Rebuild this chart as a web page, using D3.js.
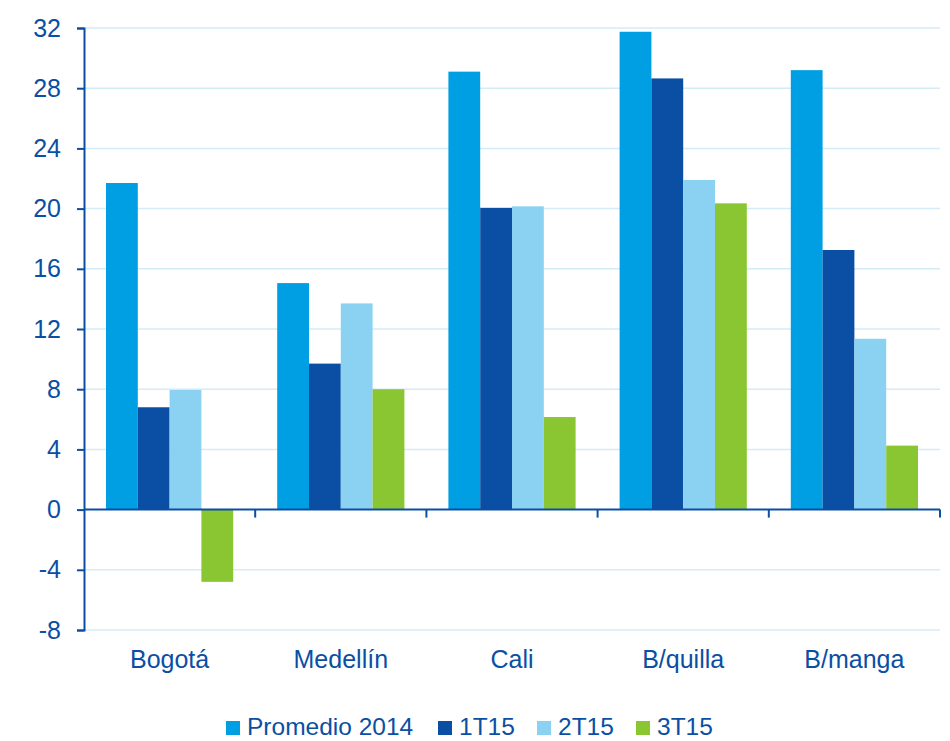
<!DOCTYPE html>
<html><head><meta charset="utf-8">
<script src="https://cdn.jsdelivr.net/npm/d3@7"></script>
<style>body{margin:0;background:#fff}svg{display:block}text{font-family:"Liberation Sans",Arial,sans-serif}</style>
</head><body><svg id="c" width="950" height="741"></svg>
<script>
const categories = ["Bogotá","Medellín","Cali","B/quilla","B/manga"];
const seriesNames = ["Promedio 2014","1T15","2T15","3T15"];
const promedio2014 = [21.7,15.05,29.1,31.75,29.2];
const t1T15 = [6.8,9.7,20.05,28.65,17.25];
const t2T15 = [7.95,13.7,20.15,21.9,11.35];
const t3T15 = [-4.8,8.0,6.15,20.35,4.25];
const yTicks = [-8,-4,0,4,8,12,16,20,24,28,32];
const colors = ["#009FE3","#0A4FA3","#8BD1F2","#8AC631"];
const values = [promedio2014,t1T15,t2T15,t3T15];
const textColor = "#0A4FA3";

const svg = d3.select("#c");
const x0 = 84, x1 = 940, yTop = 28, yBot = 630;
const y = d3.scaleLinear().domain([-8,32]).range([yBot,yTop]);
const xb = d3.scaleBand().domain(categories).range([x0,x1]).paddingInner(0).paddingOuter(0);
const xs = d3.scaleBand().domain(seriesNames).range([22, xb.bandwidth()-22]).padding(0);

// gridlines
svg.append("g").selectAll("line").data(yTicks.filter(d=>d!==0)).join("line")
  .attr("x1",x0).attr("x2",x1).attr("y1",d=>y(d)).attr("y2",d=>y(d))
  .attr("stroke","#D3ECF8").attr("stroke-width",1.5);

// bars
const g = svg.append("g");
categories.forEach((c,i)=>{
  seriesNames.forEach((s,j)=>{
    const v = values[j][i];
    g.append("rect").attr("x",xb(c)+xs(s)).attr("width",xs.bandwidth())
      .attr("y",y(Math.max(0,v))).attr("height",Math.abs(y(v)-y(0)))
      .attr("fill",colors[j]);
  });
});

// y axis
const ya = svg.append("g").attr("transform",`translate(${x0},0)`)
  .call(d3.axisLeft(y).tickValues(yTicks).tickSize(7).tickPadding(16).tickFormat(d=>String(d)));
ya.attr("font-size",null).attr("font-family",null);
ya.select(".domain").attr("stroke",textColor).attr("stroke-width",2);
ya.selectAll(".tick line").attr("stroke",textColor).attr("stroke-width",2);
ya.selectAll("text").attr("fill",textColor).style("font-size","25px");

// zero axis with category ticks
const xa = svg.append("g").attr("transform",`translate(0,${y(0)})`);
xa.append("line").attr("x1",x0).attr("x2",x1).attr("stroke",textColor).attr("stroke-width",2);
xa.selectAll("line.t").data(categories.map(c=>xb(c)+xb.bandwidth())).join("line").attr("class","t")
  .attr("x1",d=>d).attr("x2",d=>d).attr("y1",0).attr("y2",8).attr("stroke",textColor).attr("stroke-width",2);

// category labels
svg.append("g").selectAll("text").data(categories).join("text")
  .attr("x",d=>xb(d)+xb.bandwidth()/2).attr("y",668).attr("text-anchor","middle")
  .attr("fill",textColor).style("font-size","25px").text(d=>d);

// legend
const legX = [226,438,537,636];
const lg = svg.append("g");
seriesNames.forEach((s,j)=>{
  lg.append("rect").attr("x",legX[j]).attr("y",721).attr("width",14).attr("height",14).attr("fill",colors[j]);
  lg.append("text").attr("x",legX[j]+21).attr("y",735).attr("fill",textColor).style("font-size","24.5px").text(s);
});
</script></body></html>
